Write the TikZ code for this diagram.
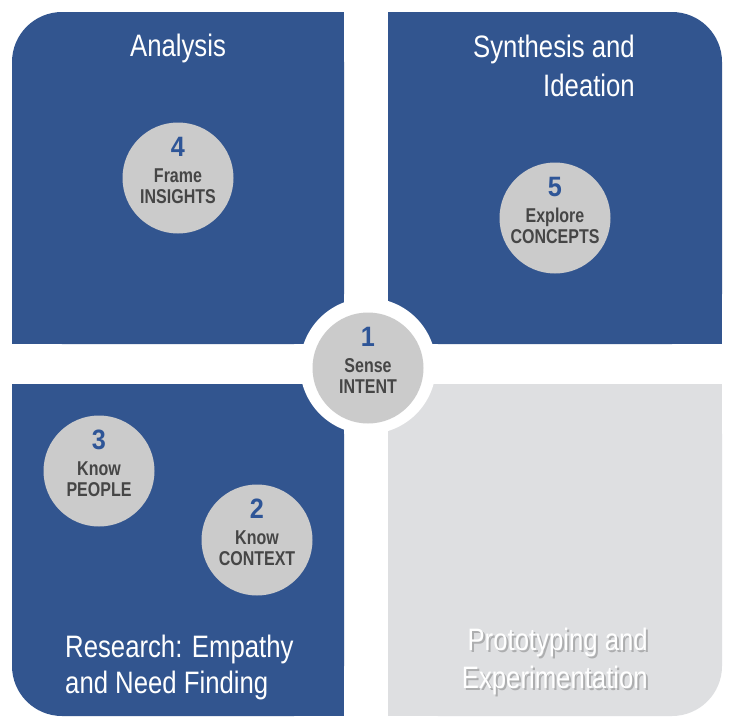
\documentclass[tikz,border=0pt]{standalone}
\usepackage{fontspec}
\setmainfont{Liberation Sans}
\newfontfamily\titlefont[FakeStretch=0.83]{Liberation Sans}
\newfontfamily\circfont[FakeStretch=0.80]{Liberation Sans}
\newfontfamily\numfont[FakeStretch=0.90]{Liberation Sans}
\definecolor{panelblue}{RGB}{50,85,143}
\definecolor{panelgray}{RGB}{222,223,225}
\definecolor{circgray}{RGB}{203,203,203}
\definecolor{numblue}{RGB}{46,85,151}
\definecolor{worddark}{RGB}{70,70,70}
\newcommand\stagecirc[6]{%
  \node[circ] (#1) at (#2,#3) {};
  \path (#1.center) ++(0,-22) node[numtxt] (#1-n) {#4};
  \path (#1.center) ++(0,4) node[wordtxt] (#1-a) {#5};
  \path (#1.center) ++(0,25) node[wordtxt] (#1-b) {#6};
}
\begin{document}
\begin{tikzpicture}[x=1pt,y=-1pt,
  circ/.style={circle,fill=circgray,minimum size=111pt,inner sep=0pt},
  numtxt/.style={anchor=base,inner sep=0pt,text=numblue,font=\numfont\bfseries\fontsize{28}{28}\selectfont},
  wordtxt/.style={anchor=base,inner sep=0pt,text=worddark,font=\circfont\bfseries\fontsize{20}{20}\selectfont},
  titletxt/.style={anchor=base,inner sep=0pt,text=white,font=\titlefont\fontsize{31}{31}\selectfont},
  shadowtxt/.style={anchor=base east,inner sep=0pt,text=black,opacity=0.22,font=\titlefont\fontsize{31}{31}\selectfont}]
\useasboundingbox (0,0) rectangle (734,728);
\fill[white] (0,0) rectangle (734,728);
% top-left panel
\fill[panelblue,rounded corners=50pt] (12,12) rectangle (344,344);
\fill[panelblue] (90,12) rectangle (344,344);
\fill[panelblue] (12,90) rectangle (344,344);
% top-right panel
\fill[panelblue,rounded corners=50pt] (388,12) rectangle (722,344);
\fill[panelblue] (388,12) rectangle (640,344);
\fill[panelblue] (388,90) rectangle (722,344);
% bottom-left panel
\fill[panelblue,rounded corners=50pt] (12,384) rectangle (344,716);
\fill[panelblue] (90,384) rectangle (344,716);
\fill[panelblue] (12,384) rectangle (344,640);
% bottom-right panel
\fill[panelgray,rounded corners=50pt] (388,384) rectangle (722,716);
\fill[panelgray] (388,384) rectangle (640,716);
\fill[panelgray] (388,384) rectangle (722,640);
% titles
\node[titletxt] (tA) at (178,56) {Analysis};
\node[titletxt,anchor=base east] (tS1) at (635,57) {Synthesis and};
\node[titletxt,anchor=base east] (tS2) at (635,96) {Ideation};
\node[titletxt,anchor=base west] (tR1) at (65,657) {Research: Empathy};
\node[titletxt,anchor=base west] (tR2) at (65,693) {and Need Finding};
\node[shadowtxt] (sP1) at (650,652) {Prototyping and};
\node[shadowtxt] (sP2) at (650,690) {Experimentation};
\node[titletxt,anchor=base east] (tP1) at (648,650) {Prototyping and};
\node[titletxt,anchor=base east] (tP2) at (648,688) {Experimentation};
% centre white disc
\fill[white] (368,366) circle (68pt);
% stage circles
\stagecirc{c1}{368}{368}{1}{Sense}{INTENT}
\stagecirc{c2}{257}{540}{2}{Know}{CONTEXT}
\stagecirc{c3}{99}{471}{3}{Know}{PEOPLE}
\stagecirc{c4}{178}{178}{4}{Frame}{INSIGHTS}
\stagecirc{c5}{555}{218}{5}{Explore}{CONCEPTS}
\end{tikzpicture}
\end{document}
